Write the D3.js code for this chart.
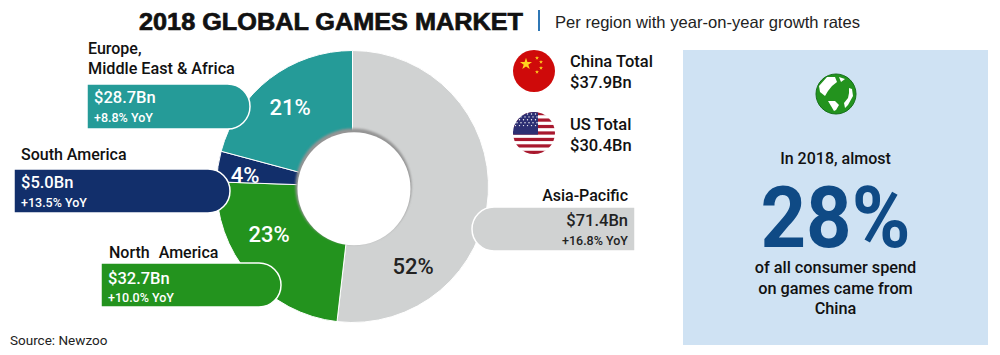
<!DOCTYPE html>
<html>
<head>
<meta charset="utf-8">
<script src="https://cdn.jsdelivr.net/npm/d3@7"></script>
<style>
    html, body { margin: 0; padding: 0; background: #fff; overflow: hidden; }
    text { font-family: Roboto, sans-serif; font-weight: 500; }
</style>
</head>
<body>
<div id="chart"></div>
<script>
// values, clockwise from 12 o'clock
const regions = ["Asia-Pacific", "North America", "South America", "Europe, Middle East & Africa"];
const revenue = [71.4, 32.7, 5.0, 28.7];
const shareLabels = ["52%", "23%", "4%", "21%"];
const revenueLabels = ["$71.4Bn", "$32.7Bn", "$5.0Bn", "$28.7Bn"];
const growthLabels = ["+16.8% YoY", "+10.0% YoY", "+13.5% YoY", "+8.8% YoY"];
const sliceColors = ["#d0d2d2", "#23931e", "#122f6b", "#259b98"];
const totals = [["China Total", "$37.9Bn"], ["US Total", "$30.4Bn"]];
const panelLines = ["of all consumer spend", "on games came from", "China"];

function main() {
    const canvasWidth = 1000;
    const canvasHeight = 355;
    const cx = 352.5;
    const cy = 186.5;
    const outerRadius = 136;
    const innerRadius = 58;

    const svg = d3.select("#chart").append("svg")
        .attr("width", canvasWidth)
        .attr("height", canvasHeight)
        .style("display", "block");

    const defs = svg.append("defs");
    defs.append("filter").attr("id", "soft")
        .append("feGaussianBlur").attr("stdDeviation", 0.8);

    function label(x, y, str, size, fill, anchor, weight) {
        return svg.append("text")
            .attr("x", x)
            .attr("y", y)
            .attr("font-size", size)
            .attr("fill", fill || "#111")
            .attr("text-anchor", anchor || "start")
            .style("font-weight", weight || 500)
            .text(str);
    }

    // title
    label(139, 30, "2018 GLOBAL GAMES MARKET", 24, "#111", "start", 700)
        .style("font-family", "'Liberation Sans', sans-serif")
        .attr("stroke", "#111")
        .attr("stroke-width", 0.7)
        .attr("textLength", 384)
        .attr("lengthAdjust", "spacingAndGlyphs");
    svg.append("rect").attr("x", 538).attr("y", 10).attr("width", 2).attr("height", 21).attr("fill", "#2f77b5");
    label(555, 28, "Per region with year-on-year growth rates", 16.5, "#222", "start", 400)
        .style("font-family", "'Liberation Sans', sans-serif")
        .attr("textLength", 305)
        .attr("lengthAdjust", "spacingAndGlyphs");

    // donut
    const pie = d3.pie().sort(null).startAngle(0).endAngle(2 * Math.PI);
    const arc = d3.arc().innerRadius(innerRadius - 6).outerRadius(outerRadius);
    const donut = svg.append("g").attr("transform", "translate(" + cx + "," + cy + ")");

    donut.selectAll("path")
        .data(pie(revenue))
        .enter()
        .append("path")
        .attr("d", arc)
        .attr("fill", (d, i) => sliceColors[i])
        .attr("stroke", "#fff")
        .attr("stroke-width", 1);

    // hole with the drop shadow on its upper left
    donut.append("circle").attr("r", innerRadius).attr("cx", 1).attr("cy", 0)
        .attr("fill", "#949494").attr("filter", "url(#soft)");
    donut.append("circle").attr("r", 56.5).attr("cx", 1.5).attr("cy", 2.2)
        .attr("fill", "#fff");

    // percent labels sit where the designer put them, not on the centroids
    const sharePos = [[413, 274], [269, 242], [245, 183], [290, 115]];
    shareLabels.forEach((s, i) => {
        label(sharePos[i][0], sharePos[i][1], s, 22, i === 0 ? "#222" : "#fff", "middle", 500);
    });

    // callout pills
    const pills = [
        { x: 472, y: 207, w: 163, h: 44, side: "left" },
        { x: 101, y: 263, w: 180, h: 44, side: "right" },
        { x: 14, y: 169, w: 216, h: 44, side: "right" },
        { x: 87, y: 84, w: 163, h: 45, side: "right" }
    ];
    function pillPath(p) {
        const r = p.h / 2;
        if (p.side === "right") {
            return "M" + p.x + "," + p.y + "H" + (p.x + p.w - r) +
                "A" + r + "," + r + " 0 0 1 " + (p.x + p.w - r) + "," + (p.y + p.h) + "H" + p.x + "Z";
        }
        return "M" + (p.x + p.w) + "," + p.y + "H" + (p.x + r) +
            "A" + r + "," + r + " 0 0 0 " + (p.x + r) + "," + (p.y + p.h) + "H" + (p.x + p.w) + "Z";
    }
    pills.forEach((p, i) => {
        svg.append("path").attr("d", pillPath(p))
            .attr("fill", sliceColors[i])
            .attr("stroke", "#fff")
            .attr("stroke-width", 1.5);
    });

    const revenuePos = [[628, 226, "end"], [108, 284, "start"], [21, 188, "start"], [94, 103, "start"]];
    const growthPos = [[628, 245, "end"], [108, 302, "start"], [21, 207, "start"], [94, 122, "start"]];
    revenueLabels.forEach((s, i) => {
        label(revenuePos[i][0], revenuePos[i][1], s, 16.5, i === 0 ? "#222" : "#fff", revenuePos[i][2]);
        label(growthPos[i][0], growthPos[i][1], growthLabels[i], 12.5, i === 0 ? "#222" : "#fff", growthPos[i][2]);
    });

    // region names
    label(628, 201, regions[0], 16, "#111", "end");
    label(109, 258, regions[1], 16, "#111").style("word-spacing", "5px");
    label(21, 160, regions[2], 16, "#111");
    label(88, 54, "Europe,", 16, "#111");
    label(88, 74, "Middle East & Africa", 16.2, "#111");

    // China flag
    const flagR = 21;
    const china = svg.append("g").attr("transform", "translate(534,71)");
    china.append("circle").attr("r", flagR).attr("fill", "#cf0a0a");
    const star = d3.symbol().type(d3.symbolStar);
    china.append("path").attr("d", star.size(45)()).attr("fill", "#ffd21f").attr("transform", "translate(-8,-7)");
    [[3, -13], [7, -9], [7, -3], [3, 1]].forEach(p => {
        china.append("path").attr("d", star.size(5)()).attr("fill", "#ffd21f")
            .attr("transform", "translate(" + p[0] + "," + p[1] + ")");
    });

    // US flag
    defs.append("clipPath").attr("id", "usClip").append("circle").attr("r", flagR);
    const us = svg.append("g").attr("transform", "translate(534,133)")
        .append("g").attr("clip-path", "url(#usClip)");
    us.append("rect").attr("x", -flagR).attr("y", -flagR).attr("width", 2 * flagR).attr("height", 2 * flagR).attr("fill", "#fff");
    const stripe = 2 * flagR / 13;
    d3.range(0, 13, 2).forEach(i => {
        us.append("rect").attr("x", -flagR).attr("y", -flagR + i * stripe)
            .attr("width", 2 * flagR).attr("height", stripe).attr("fill", "#a8182e");
    });
    us.append("rect").attr("x", -flagR).attr("y", -flagR).attr("width", 25).attr("height", stripe * 7).attr("fill", "#2d2f73");
    d3.range(0, 5).forEach(r => {
        d3.range(0, 6).forEach(c => {
            us.append("circle").attr("cx", -flagR + 2.5 + c * 4 + (r % 2) * 1.5).attr("cy", -flagR + 2 + r * 2.9)
                .attr("r", 0.7).attr("fill", "#fff");
        });
    });

    totals.forEach((t, i) => {
        label(570, 67 + i * 63, t[0], 16.5, "#111");
        label(570, 88 + i * 63, t[1], 16.5, "#111");
    });

    // right panel
    svg.append("rect").attr("x", 683).attr("y", 50).attr("width", 305).attr("height", 295).attr("fill", "#cfe2f3");

    const globe = svg.append("g").attr("transform", "translate(836,94)");
    globe.append("circle").attr("r", 20).attr("fill", "#23931e").attr("stroke", "#16701a").attr("stroke-width", 1);
    const land = globe.append("g").attr("fill", "#fff");
    land.append("path").attr("d", "M-17,-8 L-9,-17 L-1,-17 L1,-12 L-4,-8 L-8,-3 L-11,2 L-16,-2 Z");
    land.append("path").attr("d", "M3,-17 L9,-15 L5,-12 Z");
    land.append("path").attr("d", "M-8,7 L-1,7 L3,11 L0,16 L-2,17 L-5,12 Z");
    land.append("path").attr("d", "M13,-6 L16,-5 L17,2 L12,11 L9,14 L8,9 L12,4 L13,-1 Z");

    label(835.5, 164, "In 2018, almost", 16, "#111", "middle");
    label(835.5, 247, "28%", 86, "#0f4a85", "middle", 700)
        .attr("textLength", 150)
        .attr("lengthAdjust", "spacingAndGlyphs");
    panelLines.forEach((s, i) => {
        label(835.5, [273, 294, 314][i], s, 16.3, "#111", "middle");
    });

    label(10, 345, "Source: Newzoo", 13.5, "#222", "start", 400);
}
main();
</script>
</body>
</html>
